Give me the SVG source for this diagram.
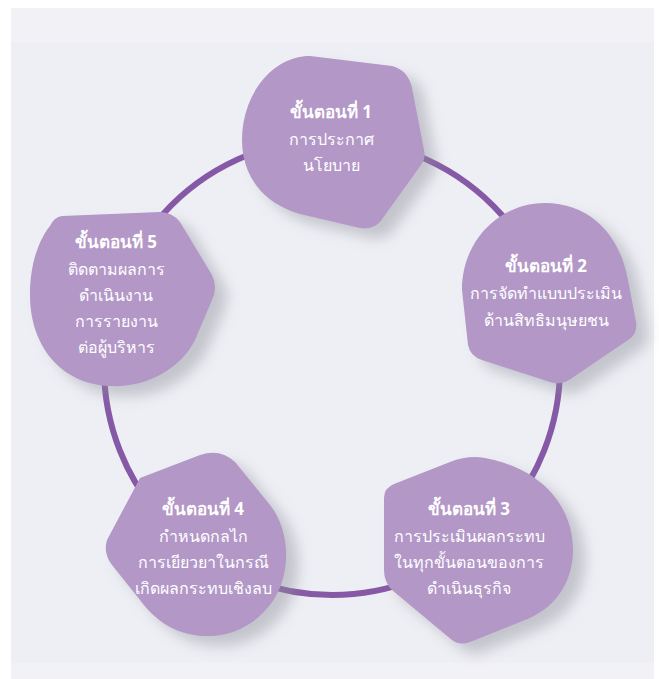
<svg xmlns="http://www.w3.org/2000/svg" width="659" height="679" viewBox="0 0 659 679">
<defs>
<filter id="sh" x="-20%" y="-20%" width="150%" height="150%">
<feGaussianBlur in="SourceAlpha" stdDeviation="7" result="b"/>
<feOffset in="b" dx="12" dy="10" result="o"/>
<feFlood flood-color="#8e8f9c" flood-opacity="0.45"/>
<feComposite in2="o" operator="in" result="s"/>
<feMerge><feMergeNode in="s"/><feMergeNode in="SourceGraphic"/></feMerge>
</filter>
<style>
.node{fill:#b397c7;filter:url(#sh)}
.t{font-family:"Noto Sans",sans-serif;fill:#ffffff;text-anchor:middle}
.h{font-size:17px;font-weight:bold}
.b{font-size:16px}
</style>
</defs>
<rect x="11" y="8" width="643" height="671" fill="#eeeff4"/>
<rect x="11" y="8" width="643" height="34" fill="#f1f1f6"/>
<rect x="11" y="663" width="643" height="16" fill="#f1f1f6"/>
<g id="connectors">
<circle cx="332" cy="367" r="228" fill="none" stroke="#8659a6" stroke-width="6"/>
</g>
<g id="node1">
<path class="node" d="M310,56 L392,66 Q408,70 412,88 L424,150 Q426,158 421,165 L380,222 Q372,230 360,228 L300,214 C262,203 242,175 242,140 C242,95 272,56 310,56 Z"/>
<text class="t h" x="331" y="118">ขั้นตอนที่ 1</text>
<text class="t b" x="331" y="145">การประกาศ</text>
<text class="t b" x="331" y="171">นโยบาย</text>
</g>
<g id="node2">
<path class="node" d="M462,290 C462,240 500,203 545,203 C590,203 620,235 628,280 L636,322 Q638,334 628,340 L572,378 Q562,386 550,382 L482,360 Q470,356 468,345 Z"/>
<text class="t h" x="546" y="272">ขั้นตอนที่ 2</text>
<text class="t b" x="546" y="299">การจัดทำแบบประเมิน</text>
<text class="t b" x="546" y="326">ด้านสิทธิมนุษยชน</text>
</g>
<g id="node3">
<path class="node" d="M394,484 L450,462 Q468,455 485,458 C540,468 573,505 573,550 C573,585 552,610 525,620 L470,642 Q460,646 452,640 L392,590 Q384,582 384,570 L384,498 Q384,488 394,484 Z"/>
<text class="t h" x="469" y="515">ขั้นตอนที่ 3</text>
<text class="t b" x="469" y="542">การประเมินผลกระทบ</text>
<text class="t b" x="469" y="568">ในทุกขั้นตอนของการ</text>
<text class="t b" x="469" y="594">ดำเนินธุรกิจ</text>
</g>
<g id="node4">
<path class="node" d="M140,478 L200,455 Q220,448 235,462 L270,505 C290,530 293,575 270,605 C250,630 225,637 205,636 C175,635 155,620 140,600 L112,565 Q103,553 107,540 Z"/>
<text class="t h" x="203" y="515">ขั้นตอนที่ 4</text>
<text class="t b" x="203" y="542">กำหนดกลไก</text>
<text class="t b" x="203" y="568">การเยียวยาในกรณี</text>
<text class="t b" x="203" y="594">เกิดผลกระทบเชิงลบ</text>
</g>
<g id="node5">
<path class="node" d="M62,216 L160,212 Q172,212 180,222 L212,275 Q218,287 212,300 L195,340 C180,370 145,388 110,386 C60,384 30,345 30,295 C30,262 40,238 50,226 Q54,217 62,216 Z"/>
<text class="t h" x="116" y="248">ขั้นตอนที่ 5</text>
<text class="t b" x="116" y="275">ติดตามผลการ</text>
<text class="t b" x="116" y="301">ดำเนินงาน</text>
<text class="t b" x="116" y="327">การรายงาน</text>
<text class="t b" x="116" y="353">ต่อผู้บริหาร</text>
</g>
</svg>
